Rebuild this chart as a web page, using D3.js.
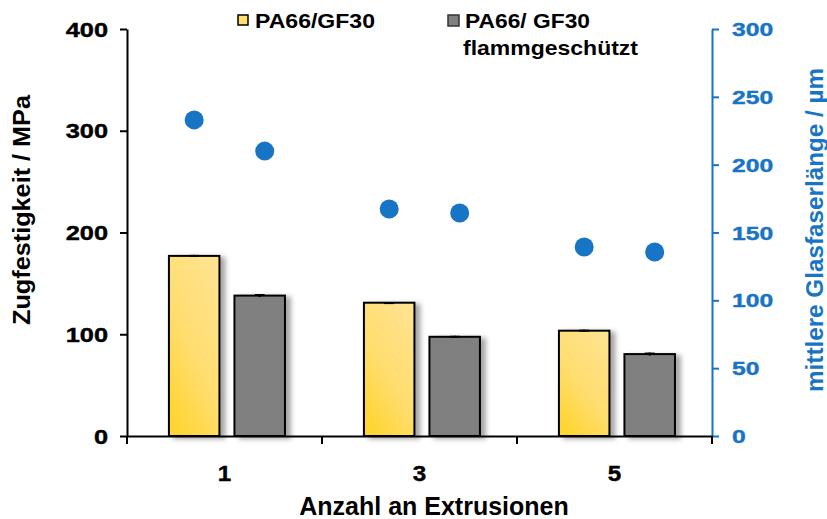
<!DOCTYPE html>
<html>
<head>
<meta charset="utf-8">
<script src="https://cdn.jsdelivr.net/npm/d3@7"></script>
<style>
  body { margin: 0; background: #fff; }
  svg text { font-family: "Liberation Sans", Arial, sans-serif; font-weight: bold; }
</style>
</head>
<body>
<svg id="chart" width="827" height="519"></svg>
<script>
// data
var categories = ["1", "3", "5"];
var series = ["PA66/GF30", "PA66/ GF30 flammgeschützt"];
var strengthStd = [177, 131, 103.5];     // PA66/GF30, MPa
var strengthFr = [138, 97.5, 80.5];      // flammgeschützt, MPa
var errStd = [1, 0.6, 1];
var errFr = [1.5, 1, 1.5];
var fiberStd = [233, 167.3, 139.3];      // µm, right axis
var fiberFr = [210, 164.4, 135.6];
var leftTicks = [0, 100, 200, 300, 400];
var rightTicks = [0, 50, 100, 150, 200, 250, 300];

var blue = "#1874c5";
var svg = d3.select("#chart");

var plotLeft = 127, plotRight = 712, plotTop = 29, plotBottom = 436;

var x0 = d3.scaleBand().domain(categories).range([plotLeft, plotRight]);
var bw = x0.bandwidth();
var x1 = d3.scaleBand().domain(series)
  .range([bw * 0.215, bw * 0.81]).paddingInner(0.229);
// the fibre-length points sit a little right of the grey bar centre
var xp = d3.scalePoint().domain(series)
  .range([x1(series[0]) + x1.bandwidth() / 2, x1(series[1]) + x1.bandwidth() / 2 + 5]);
var yL = d3.scaleLinear().domain([0, 400]).range([plotBottom, plotTop]);
var yR = d3.scaleLinear().domain([0, 300]).range([plotBottom, plotTop]);

var defs = svg.append("defs");
var grad = defs.append("linearGradient").attr("id", "yel")
  .attr("x1", 0.8).attr("y1", 0).attr("x2", 0.2).attr("y2", 1);
grad.append("stop").attr("offset", "0%").attr("stop-color", "#ffe38f");
grad.append("stop").attr("offset", "55%").attr("stop-color", "#ffdd6e");
grad.append("stop").attr("offset", "100%").attr("stop-color", "#ffd530");
defs.append("filter").attr("id", "shadow")
  .attr("x", "-20%").attr("y", "-20%").attr("width", "150%").attr("height", "140%")
  .append("feDropShadow")
  .attr("dx", 5).attr("dy", 2).attr("stdDeviation", 2.5)
  .attr("flood-color", "#000").attr("flood-opacity", 0.35);

var rows = categories.map(function (c, i) {
  return [
    { cat: c, s: series[0], v: strengthStd[i], e: errStd[i], f: fiberStd[i], fill: "url(#yel)" },
    { cat: c, s: series[1], v: strengthFr[i], e: errFr[i], f: fiberFr[i], fill: "#808080" }
  ];
}).flat();

function cx(d) { return x0(d.cat) + x1(d.s) + x1.bandwidth() / 2; }

// bars
svg.append("g").selectAll("rect")
  .data(rows)
  .join("rect")
  .attr("x", function (d) { return x0(d.cat) + x1(d.s); })
  .attr("y", function (d) { return yL(d.v); })
  .attr("width", x1.bandwidth())
  .attr("height", function (d) { return yL(0) - yL(d.v); })
  .attr("fill", function (d) { return d.fill; })
  .attr("stroke", "#000")
  .attr("stroke-width", 2)
  .attr("filter", "url(#shadow)");

// error bars
var eb = svg.append("g").attr("stroke", "#000").attr("stroke-width", 2);
eb.selectAll("line.v").data(rows).join("line").attr("class", "v")
  .attr("x1", cx).attr("x2", cx)
  .attr("y1", function (d) { return yL(d.v - d.e); })
  .attr("y2", function (d) { return yL(d.v + d.e); });
eb.selectAll("line.c").data(rows).join("line").attr("class", "c")
  .attr("x1", function (d) { return cx(d) - 5; })
  .attr("x2", function (d) { return cx(d) + 5; })
  .attr("y1", function (d) { return yL(d.v + d.e) + 1; })
  .attr("y2", function (d) { return yL(d.v + d.e) + 1; });

// fibre length points
svg.append("g").selectAll("circle")
  .data(rows)
  .join("circle")
  .attr("cx", function (d) { return x0(d.cat) + xp(d.s); })
  .attr("cy", function (d) { return yR(d.f); })
  .attr("r", 9.5)
  .attr("fill", blue);

function stretch(sel, k) {
  sel.each(function () {
    var w = this.getComputedTextLength();
    this.setAttribute("textLength", w * k);
    this.setAttribute("lengthAdjust", "spacingAndGlyphs");
  });
}

// left axis
var gL = svg.append("g").attr("transform", "translate(" + plotLeft + ",0)")
  .call(d3.axisLeft(yL).tickValues(leftTicks).tickSize(7).tickSizeOuter(0).tickPadding(12));
gL.selectAll("path, line").attr("stroke", "#000").attr("stroke-width", 2);
gL.selectAll("text").attr("font-size", 20).attr("fill", "#000").attr("dy", "0.35em")
  .attr("stroke", "#000").attr("stroke-width", 0.4);
stretch(gL.selectAll("text"), 1.27);

// right axis
var gR = svg.append("g").attr("transform", "translate(" + plotRight + ",0)")
  .call(d3.axisRight(yR).tickValues(rightTicks).tickSize(7).tickSizeOuter(0).tickPadding(13));
gR.selectAll("path, line").attr("stroke", blue).attr("stroke-width", 2);
gR.selectAll("text").attr("font-size", 19).attr("fill", blue).attr("dy", "0.35em")
  .attr("stroke", blue).attr("stroke-width", 0.4);
stretch(gR.selectAll("text"), 1.3);

// bottom axis: labels at band centres, ticks at band edges
var gB = svg.append("g").attr("transform", "translate(0," + plotBottom + ")")
  .call(d3.axisBottom(x0).tickSize(0).tickSizeOuter(0).tickPadding(29));
gB.select("path").attr("stroke", "#000").attr("stroke-width", 2);
gB.selectAll("text").attr("font-size", 22).attr("fill", "#000")
  .attr("stroke", "#000").attr("stroke-width", 0.4);
stretch(gB.selectAll("text"), 1.1);
var edges = categories.map(function (c) { return x0(c); }).concat([plotRight]);
gB.selectAll("line.edge").data(edges).join("line").attr("class", "edge")
  .attr("x1", function (d) { return d; }).attr("x2", function (d) { return d; })
  .attr("y1", 0).attr("y2", 8)
  .attr("stroke", "#000").attr("stroke-width", 2);

// axis titles
svg.append("text").attr("x", 434).attr("y", 515)
  .attr("text-anchor", "middle").attr("font-size", 25).attr("fill", "#000")
  .text("Anzahl an Extrusionen");
svg.append("text")
  .attr("transform", "translate(30,210) rotate(-90)")
  .attr("text-anchor", "middle").attr("font-size", 23).attr("fill", "#000")
  .attr("textLength", 230).attr("lengthAdjust", "spacingAndGlyphs")
  .text("Zugfestigkeit / MPa");
svg.append("text")
  .attr("transform", "translate(823,230) rotate(-90)")
  .attr("text-anchor", "middle").attr("font-size", 24).attr("fill", blue)
  .attr("textLength", 324).attr("lengthAdjust", "spacingAndGlyphs")
  .text("mittlere Glasfaserlänge / µm");

// legend
var lg = svg.append("g");
lg.append("rect").attr("x", 238).attr("y", 15).attr("width", 10).attr("height", 10)
  .attr("fill", "#ffdd6e").attr("stroke", "#000").attr("stroke-width", 1.5);
lg.append("text").attr("x", 255).attr("y", 28).attr("font-size", 21)
  .attr("textLength", 120).attr("lengthAdjust", "spacingAndGlyphs").text("PA66/GF30");
lg.append("rect").attr("x", 448).attr("y", 15).attr("width", 11).attr("height", 11)
  .attr("fill", "#808080").attr("stroke", "#333").attr("stroke-width", 1.5);
lg.append("text").attr("x", 465).attr("y", 28).attr("font-size", 21)
  .attr("textLength", 125).attr("lengthAdjust", "spacingAndGlyphs").text("PA66/ GF30");
lg.append("text").attr("x", 463).attr("y", 55).attr("font-size", 21)
  .attr("textLength", 175).attr("lengthAdjust", "spacingAndGlyphs").text("flammgeschützt");
</script>
</body>
</html>
